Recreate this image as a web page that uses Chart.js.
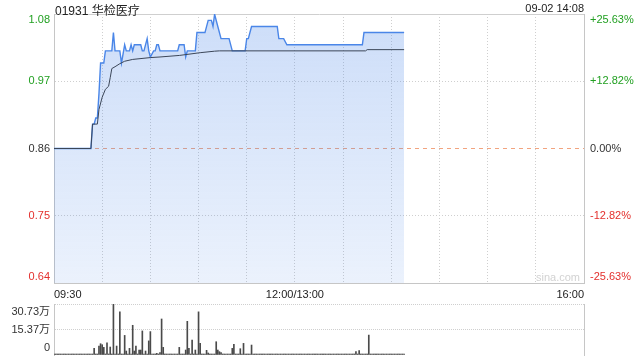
<!DOCTYPE html>
<html>
<head>
<meta charset="utf-8">
<script src="https://cdn.jsdelivr.net/npm/chart.js@4.4.1/dist/chart.umd.min.js"></script>
<style>
  html, body { margin: 0; padding: 0; background: #fff; }
  body { width: 640px; height: 360px; position: relative; overflow: hidden;
         font-family: "Liberation Sans", Arial, "Noto Sans CJK SC", sans-serif; }
  #priceBox { position: absolute; left: 0; top: 0; width: 640px; height: 300px; }
  #volBox { position: absolute; left: 0; top: 300px; width: 640px; height: 60px; }
  #title { position: absolute; left: 55px; top: 1px; font-size: 12px; color: #222; z-index: 2; }
  #stamp { position: absolute; right: 56px; top: 2px; font-size: 11px; color: #222; z-index: 2; }
  #mark { position: absolute; left: 536px; top: 271px; font-size: 11px; color: #d2d2d2; z-index: 2; }
</style>
</head>
<body>
<div id="priceBox"><canvas id="priceChart"></canvas></div>
<div id="volBox"><canvas id="volChart"></canvas></div>
<div id="title">01931 华检医疗</div>
<div id="stamp">09-02 14:08</div>
<div id="mark">sina.com</div>
<script>
const prevClose = 0.86;
const pctLevels = [25.63, 12.82, 0, -12.82, -25.63];
const priceTickText = ['1.08', '0.97', '0.86', '0.75', '0.64'];
const pctTickText = ['+25.63%', '+12.82%', '0.00%', '-12.82%', '-25.63%'];
const levelColors = ['#22a022', '#22a022', '#333333', '#e3302d', '#e3302d'];

// minutes since 09:30 (lunch break removed), 330 = 16:00
const xGridMinutes = [0, 30, 60, 90, 120, 150, 180, 210, 240, 270, 300, 330];
const xTickText = { 0: '09:30', 150: '12:00/13:00', 330: '16:00' };

const priceMinutes = [0, 23, 24, 25, 26, 27, 28, 29, 31, 32, 36, 37, 38, 41, 42, 44, 45, 47, 48, 49, 50,
  54, 55, 56, 58, 59, 60, 62, 63, 64, 65, 66, 77, 78, 81, 82, 83, 88, 89, 94, 96, 98, 99, 100,
  102, 104, 109, 111, 119, 120, 121, 123, 139, 140, 143, 145, 192, 193, 218];
const priceValues = [0.86, 0.86, 0.90, 0.90, 0.91, 0.91, 0.95, 1.00, 1.00, 1.02, 1.02, 1.05, 1.02, 1.02, 1.00, 1.03, 1.02, 1.02, 1.03, 1.02, 1.03,
  1.03, 1.02, 1.02, 1.04, 1.02, 1.01, 1.02, 1.02, 1.03, 1.03, 1.02, 1.02, 1.03, 1.03, 1.01, 1.02, 1.02, 1.05, 1.05, 1.07, 1.07, 1.06, 1.08,
  1.06, 1.04, 1.04, 1.02, 1.02, 1.04, 1.04, 1.06, 1.06, 1.04, 1.04, 1.03, 1.03, 1.05, 1.05];

const avgMinutes = [0, 23, 24, 27, 28, 30, 32, 34, 35, 36, 38, 41, 44, 49, 60, 66, 78, 91, 100, 103, 194, 195, 218];
const avgValues = [0.86, 0.86, 0.90, 0.90, 0.924, 0.944, 0.957, 0.962, 0.976, 0.991, 0.994, 0.999, 1.003, 1.006,
  1.009, 1.010, 1.0125, 1.017, 1.0195, 1.020, 1.020, 1.022, 1.022];

const volTickValues = [30.73, 15.37, 0];
const volTickText = ['30.73万', '15.37万', '0'];
// one bar per minute, 09:30 .. 14:08, in 万
const volumes = [
  0.6, 0.6, 0.6, 0.6, 0.6, 0.6, 0.6, 0.6, 0.6, 0.6,
  0.6, 0.6, 0.6, 0.6, 0.6, 0.6, 0.6, 0.6, 0.6, 0.6,
  0.6, 0.6, 0.6, 0.6, 0.6, 4.0, 0.6, 0.6, 5.4, 6.8,
  6.2, 4.6, 0.6, 7.4, 0.6, 4.8, 0.6, 30.73, 0.6, 5.4,
  0.6, 26.0, 0.6, 0.6, 11.8, 2.4, 0.6, 4.0, 0.6, 17.9,
  2.4, 5.4, 0.6, 3.0, 3.0, 14.5, 0.6, 2.4, 0.6, 8.5,
  14.1, 0.6, 0.6, 0.6, 1.0, 0.6, 1.5, 21.7, 4.6, 0.6,
  0.6, 0.6, 0.6, 0.6, 0.6, 0.6, 0.6, 0.6, 4.6, 0.6,
  0.6, 0.6, 3.0, 20.3, 4.0, 0.6, 9.0, 0.6, 3.0, 0.6,
  26.0, 7.0, 0.6, 0.6, 0.6, 2.8, 1.2, 0.6, 0.6, 0.6,
  0.6, 8.0, 3.0, 2.0, 1.5, 0.6, 0.6, 0.6, 0.6, 0.6,
  0.6, 4.0, 6.5, 0.6, 0.6, 0.6, 3.8, 0.6, 7.0, 0.6,
  0.6, 0.6, 0.6, 6.0, 0.6, 0.6, 0.6, 0.6, 0.6, 0.6,
  0.6, 0.6, 0.6, 0.6, 0.6, 0.6, 0.6, 0.6, 0.6, 0.6,
  0.6, 0.6, 0.6, 0.6, 0.6, 0.6, 0.6, 0.6, 0.6, 0.6,
  0.6, 0.6, 0.6, 0.6, 0.6, 0.6, 0.6, 0.6, 0.6, 0.6,
  0.6, 0.6, 0.6, 0.6, 0.6, 0.6, 0.6, 0.6, 0.6, 0.6,
  0.6, 0.6, 0.6, 0.6, 0.6, 0.6, 0.6, 0.6, 0.6, 0.6,
  0.6, 0.6, 0.6, 0.6, 0.6, 0.6, 0.6, 0.6, 2.0, 0.6,
  2.7, 0.6, 0.6, 0.6, 0.6, 0.6, 12.0, 0.6, 0.6, 0.6,
  0.6, 0.6, 0.6, 0.6, 0.6, 0.6, 0.6, 0.6, 0.6, 0.6,
  0.6, 0.6, 0.6, 0.6, 0.6, 0.6, 0.6, 0.6, 0.6
];

const FONT = '"Liberation Sans", Arial, "Noto Sans CJK SC", sans-serif';
const GRID = '#cfcfcf';
const FRAME = '#c6c6c6';
const levelValues = pctLevels.map(p => prevClose * (1 + p / 100));
const yMax = levelValues[0], yMin = levelValues[levelValues.length - 1];

// axis labels drawn beside the plot, pulled inward at the top and bottom edges
const sideLabels = {
  id: 'sideLabels',
  afterDraw(chart, args, opts) {
    const { ctx, chartArea: a } = chart;
    const s = chart.scales.y;
    ctx.save();
    ctx.font = '11px ' + FONT;
    ctx.textBaseline = 'middle';
    opts.values.forEach((v, i) => {
      let y = s.getPixelForValue(v);
      y = Math.min(Math.max(y, a.top + opts.insetTop), a.bottom - opts.insetBottom);
      ctx.fillStyle = opts.colors[i];
      ctx.textAlign = 'right';
      ctx.fillText(opts.left[i], a.left - 4, y);
      if (opts.right) {
        ctx.textAlign = 'left';
        ctx.fillText(opts.right[i], a.right + 6, y);
      }
    });
    ctx.restore();
  }
};

const zeroWidth = s => { s.width = 0; };

new Chart(document.getElementById('priceChart'), {
  type: 'line',
  data: {
    datasets: [
      {
        label: '均价',
        data: avgMinutes.map((m, i) => ({ x: m, y: avgValues[i] })),
        borderColor: '#3b4658',
        borderWidth: 1,
        pointRadius: 0,
        fill: false
      },
      {
        label: '价格',
        data: priceMinutes.map((m, i) => ({ x: m, y: priceValues[i] })),
        borderColor: '#4a86e8',
        borderWidth: 1.4,
        pointRadius: 0,
        fill: 'start',
        backgroundColor: (c) => {
          const a = c.chart.chartArea;
          if (!a) return 'rgba(74,134,232,0.2)';
          const g = c.chart.ctx.createLinearGradient(0, a.top, 0, a.bottom);
          g.addColorStop(0, 'rgba(74,134,232,0.28)');
          g.addColorStop(1, 'rgba(74,134,232,0.11)');
          return g;
        }
      }
    ]
  },
  options: {
    responsive: true,
    maintainAspectRatio: false,
    animation: false,
    events: [],
    layout: { padding: { left: 54, right: 56, top: 14, bottom: 0 } },
    plugins: {
      legend: { display: false },
      tooltip: { enabled: false },
      sideLabels: {
        values: levelValues, left: priceTickText, right: pctTickText,
        colors: levelColors, insetTop: 6, insetBottom: 6
      }
    },
    scales: {
      x: {
        type: 'linear', min: 0, max: 330,
        afterBuildTicks: s => { s.ticks = xGridMinutes.map(v => ({ value: v })); },
        afterFit: s => { s.height = 17; },
        ticks: {
          autoSkip: false, maxRotation: 0, align: 'inner', padding: 5,
          color: '#222', font: { size: 11, family: FONT },
          callback: v => xTickText[v] || ''
        },
        grid: {
          drawTicks: false,
          color: c => (c.index === 0 || c.index === xGridMinutes.length - 1) ? 'rgba(0,0,0,0)' : GRID
        },
        border: { color: FRAME, dash: [1, 2] }
      },
      y: {
        min: yMin, max: yMax,
        afterBuildTicks: s => { s.ticks = levelValues.slice().reverse().map(v => ({ value: v })); },
        afterFit: zeroWidth,
        ticks: { display: false },
        grid: {
          drawTicks: false,
          color: c => (c.tick && Math.abs(c.tick.value - prevClose) < 1e-6) ? '#f2a47f' : GRID
        },
        border: {
          color: FRAME,
          dash: c => {
            if (!c.tick) return [];
            if (Math.abs(c.tick.value - prevClose) < 1e-6) return [4, 4];
            if (c.tick.value > yMax - 1e-6) return [];
            return [1, 2];
          }
        }
      },
      y2: {
        position: 'right', min: yMin, max: yMax,
        afterFit: zeroWidth,
        ticks: { display: false },
        grid: { display: false },
        border: { color: FRAME }
      }
    }
  },
  plugins: [sideLabels]
});

new Chart(document.getElementById('volChart'), {
  type: 'bar',
  data: {
    datasets: [{
      label: '成交量',
      data: volumes.map((v, i) => ({ x: i, y: v })),
      backgroundColor: '#4a4a4a',
      borderWidth: 0,
      barThickness: 1
    }]
  },
  options: {
    responsive: true,
    maintainAspectRatio: false,
    animation: false,
    events: [],
    layout: { padding: { left: 54, right: 56, top: 4, bottom: 5 } },
    plugins: {
      legend: { display: false },
      tooltip: { enabled: false },
      sideLabels: {
        values: volTickValues, left: volTickText, right: null,
        colors: ['#333', '#333', '#333'], insetTop: 8, insetBottom: 7
      }
    },
    scales: {
      x: { type: 'linear', min: 0, max: 330, offset: false, display: false },
      y: {
        min: 0, max: volTickValues[0],
        afterBuildTicks: s => { s.ticks = volTickValues.slice().reverse().map(v => ({ value: v })); },
        afterFit: zeroWidth,
        ticks: { display: false },
        grid: {
          drawTicks: false,
          color: c => (c.tick && c.tick.value === 0) ? 'rgba(0,0,0,0)' : GRID
        },
        border: { color: FRAME, dash: [1, 1] }
      },
      y2: {
        position: 'right', min: 0, max: volTickValues[0],
        afterFit: zeroWidth,
        ticks: { display: false },
        grid: { display: false },
        border: { color: FRAME }
      }
    }
  },
  plugins: [sideLabels]
});
</script>
</body>
</html>
